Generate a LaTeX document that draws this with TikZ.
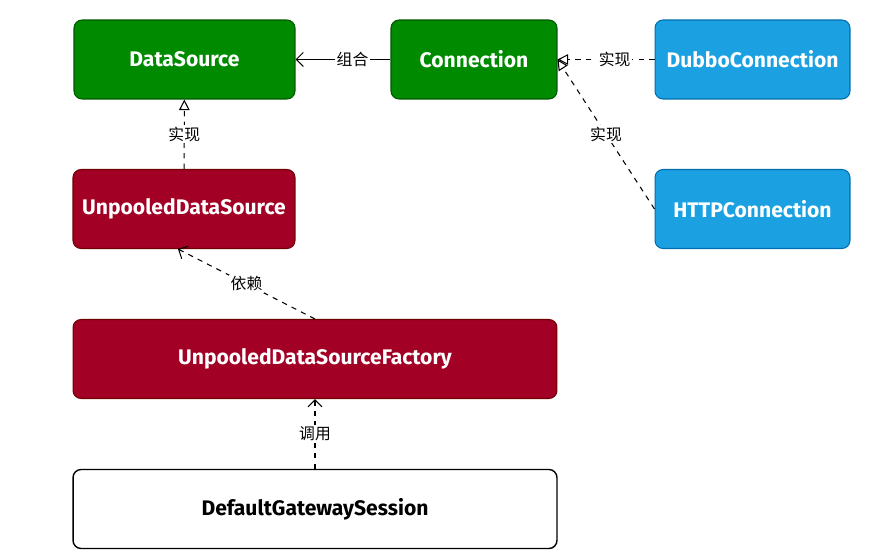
\documentclass[tikz,border=0pt]{standalone}
\usepackage{fontspec}
\setmainfont{Fira Sans}
\newfontfamily\cjk{Noto Sans CJK SC}
\usetikzlibrary{arrows.meta}

\definecolor{dsgreen}{HTML}{008A00}
\definecolor{dsgreenline}{HTML}{005700}
\definecolor{dsred}{HTML}{A20025}
\definecolor{dsredline}{HTML}{6F0000}
\definecolor{dsblue}{HTML}{1BA1E2}
\definecolor{dsblueline}{HTML}{006EAF}

\tikzset{
  box/.style={rounded corners=0.16cm,minimum height=1.58cm,text=white,font=\large\bfseries,inner sep=0pt},
  greenbox/.style={box,fill=dsgreen,draw=dsgreenline},
  redbox/.style={box,fill=dsred,draw=dsredline},
  bluebox/.style={box,fill=dsblue,draw=dsblueline},
  whitebox/.style={box,fill=white,draw=black,text=black,line width=0.8pt},
  lbl/.style={fill=white,font=\cjk\small,inner sep=1pt},
  impl/.style={dash pattern=on 3pt off 3pt,-{Triangle[open,length=6pt,width=6pt]}},
  dep/.style={dash pattern=on 3pt off 3pt,-{Straight Barb[length=4pt,width=8pt]}}
}

\begin{document}
\begin{tikzpicture}[x=0.02cm,y=-0.02cm,line width=0.6pt]
  \useasboundingbox (0,0) rectangle (882,557);
  \node[greenbox,minimum width=4.42cm] (ds) at (184.5,59.5) {DataSource};
  \node[greenbox,minimum width=3.32cm] (conn) at (474,59.5) {Connection};
  \node[bluebox,minimum width=3.9cm] (dubbo) at (752.5,59.5) {DubboConnection};
  \node[redbox,minimum width=4.44cm] (uds) at (184,209) {UnpooledDataSource};
  \node[bluebox,minimum width=3.9cm] (http) at (752.5,209) {HTTPConnection};
  \node[redbox,minimum width=9.68cm] (fac) at (315,359) {UnpooledDataSourceFactory};
  \node[whitebox,minimum width=9.68cm] (sess) at (315,509) {DefaultGatewaySession};

  \draw[-{Straight Barb[length=4pt,width=8pt]}] (conn) -- node[lbl,pos=0.4]{组合} (ds);
  \draw[impl] (dubbo) -- node[lbl,pos=0.41]{实现} (conn);
  \draw[impl] (http.west) -- node[lbl]{实现} (conn.east);
  \draw[impl] (uds) -- node[lbl]{实现} (ds);
  \draw[dep] (fac.north) -- node[lbl]{依赖} ([xshift=-0.12cm]uds.south);
  \draw[dep] (sess) -- node[lbl]{调用} (fac);
\end{tikzpicture}
\end{document}
